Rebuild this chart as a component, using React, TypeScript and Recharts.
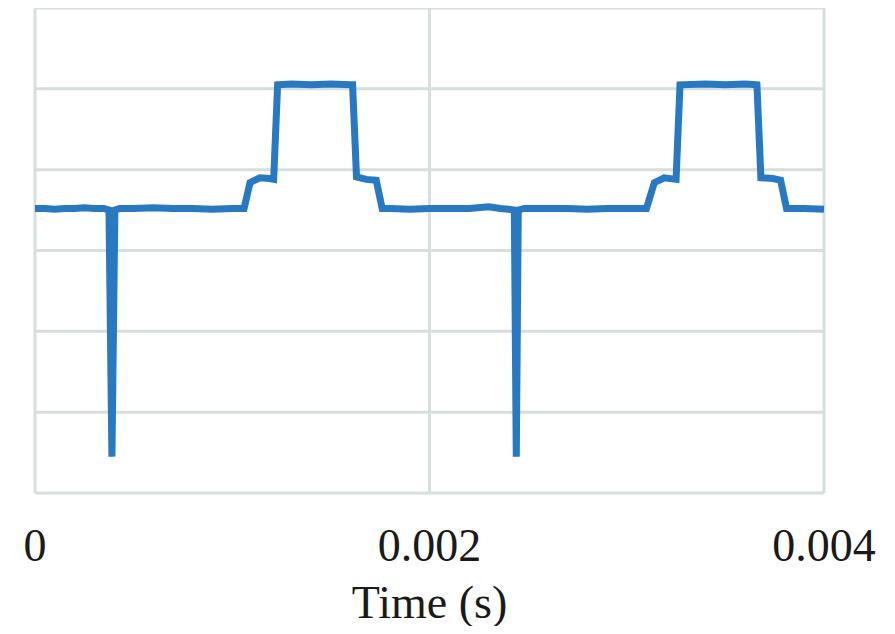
import { CartesianGrid, Line, LineChart, XAxis, YAxis } from "recharts";

// time (s) and signal level (grid units)
const times = [
  0, 0.00005, 0.0001, 0.00015, 0.0002, 0.00025, 0.0003, 0.00035, 0.000375, 0.00039, 0.000405, 0.00043,
  0.0005, 0.0006, 0.0007, 0.0008, 0.0009, 0.001, 0.00106, 0.00109, 0.00114, 0.00119, 0.00121, 0.00123,
  0.0013, 0.0014, 0.0015, 0.0016, 0.00161, 0.00163, 0.00168, 0.00173, 0.00176, 0.0018, 0.0019, 0.002,
  0.0021, 0.0022, 0.0023, 0.00236, 0.0024, 0.00243, 0.00244, 0.00245, 0.00248, 0.0026, 0.0027, 0.0028,
  0.0029, 0.003, 0.0031, 0.00314, 0.00319, 0.00325, 0.00327, 0.0034, 0.0035, 0.0036, 0.00366, 0.00368,
  0.00374, 0.00378, 0.00381, 0.0039, 0.004,
];
const levels = [
  3.52, 3.52, 3.51, 3.52, 3.52, 3.53, 3.52, 3.52, 3.5, 0.45, 3.5, 3.52,
  3.52, 3.53, 3.52, 3.52, 3.51, 3.52, 3.52, 3.84, 3.9, 3.89, 3.88, 5.05,
  5.06, 5.05, 5.06, 5.05, 5.05, 3.91, 3.88, 3.87, 3.52, 3.52, 3.51, 3.52,
  3.52, 3.52, 3.54, 3.52, 3.51, 3.5, 0.45, 3.5, 3.52, 3.52, 3.52, 3.51,
  3.52, 3.52, 3.52, 3.84, 3.9, 3.88, 5.05, 5.06, 5.05, 5.06, 5.05, 3.9,
  3.89, 3.87, 3.52, 3.52, 3.51,
];
const xTicks = [0, 0.002, 0.004];
const yGrid = [0, 1, 2, 3, 4, 5, 6];

const data = times.map((t, i) => ({ t, v: levels[i] }));

const serif = "'Liberation Serif', 'Times New Roman', serif";

export default function App() {
  return (
    <div style={{ margin: -8, width: 895, height: 634, background: "#fff" }}>
      <style>{`.recharts-text { font-family: ${serif}; }`}</style>
      <LineChart
        width={895}
        height={634}
        data={data}
        margin={{ top: 8, right: 71, bottom: 0, left: 35 }}
      >
        <CartesianGrid stroke="#d6dede" strokeWidth={3} />
        <XAxis
          dataKey="t"
          type="number"
          domain={[0, 0.004]}
          ticks={xTicks}
          tickFormatter={(v: number) => String(v)}
          height={141}
          axisLine={false}
          tickLine={false}
          tickSize={0}
          tickMargin={35}
          tick={{ fontSize: 46, fill: "#1a1a1a" }}
          label={{
            value: "Time (s)",
            position: "insideBottom",
            offset: 16,
            fontSize: 46,
            fill: "#1a1a1a",
          }}
        />
        <YAxis hide type="number" domain={[0, 6]} ticks={yGrid} />
        <Line
          dataKey="v"
          type="linear"
          stroke="#2878c2"
          strokeWidth={7}
          dot={false}
          isAnimationActive={false}
        />
      </LineChart>
    </div>
  );
}
